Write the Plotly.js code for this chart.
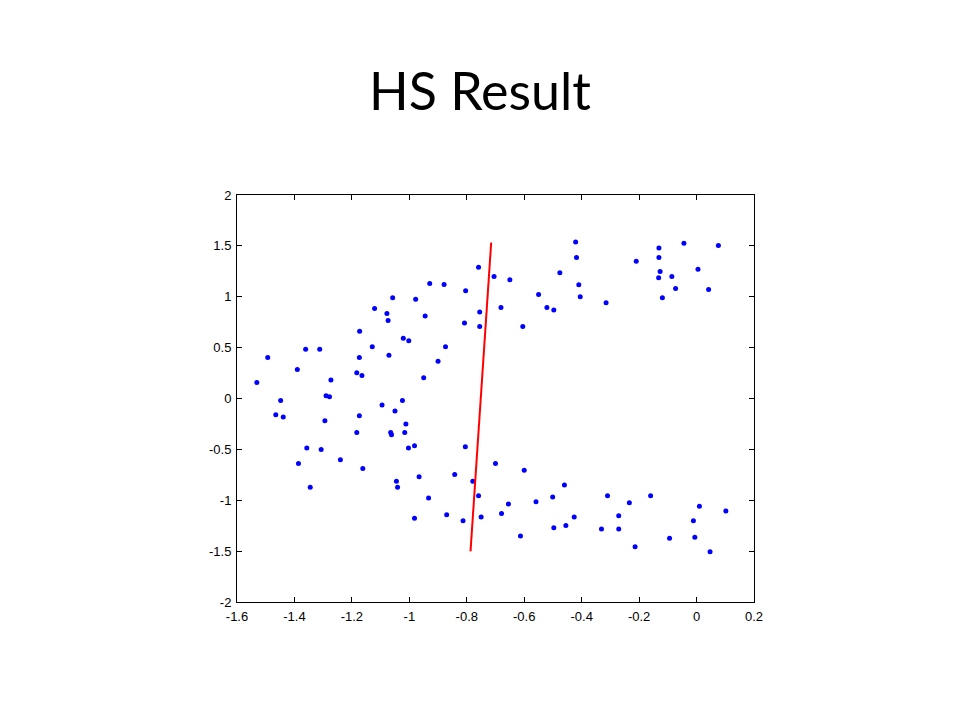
<!DOCTYPE html>
<html>
<head>
<meta charset="utf-8">
<script src="https://cdn.plot.ly/plotly-3.0.1.min.js"></script>
<style>html,body{margin:0;padding:0;background:#fff;}#chart{width:960px;height:720px;}</style>
</head>
<body>
<div id="chart"></div>
<script>
var pointsX = [
 -1.531,-1.493,-1.448,-1.390,-1.361,-1.312,-1.290,-1.278,-1.273,-1.173,
 -1.183,-1.165,-1.174,-1.129,-1.121,-1.078,-1.074,-1.058,-1.071,-1.095,
 -1.050,-1.024,-1.021,-1.002,-0.978,-0.945,-0.929,-0.879,-0.950,-0.900,
 -0.874,-0.804,-0.808,-0.759,-0.755,-0.755,-0.705,-0.681,-0.650,-0.605,
 -0.550,-0.521,-0.497,-0.476,-0.421,-0.418,-0.410,-0.405,-0.315,-0.210,
 -0.131,-0.131,-0.127,-0.132,-0.119,-0.086,-0.073,-0.044,0.005,0.042,0.076,
 -1.465,-1.439,-1.386,-1.357,-1.345,-1.307,-1.294,-1.240,-1.174,-1.183,
 -1.162,-1.065,-1.062,-1.012,-1.016,-1.003,-0.982,-1.045,-1.041,-0.966,
 -0.933,-0.982,-0.870,-0.842,-0.805,-0.813,-0.779,-0.759,-0.750,-0.700,
 -0.679,-0.655,-0.600,-0.613,-0.559,-0.501,-0.497,-0.460,-0.455,-0.426,
 -0.331,-0.310,-0.271,-0.271,-0.234,-0.214,-0.160,-0.094,-0.011,0.010,
 -0.006,0.047,0.102
];
var pointsY = [
 0.158,0.404,-0.019,0.286,0.485,0.485,0.027,0.017,0.181,0.662,
 0.252,0.227,0.404,0.508,0.885,0.836,0.767,0.989,0.426,-0.065,
 -0.124,-0.019,0.593,0.567,0.976,0.812,1.131,1.121,0.203,0.367,
 0.508,1.058,0.741,1.291,0.849,0.708,1.199,0.895,1.166,0.708,
 1.023,0.895,0.871,1.235,1.539,1.386,1.117,0.999,0.940,1.350,
 1.480,1.386,1.249,1.186,0.989,1.199,1.081,1.527,1.271,1.072,1.504,
 -0.160,-0.183,-0.638,-0.487,-0.873,-0.500,-0.219,-0.602,-0.170,-0.333,
 -0.687,-0.333,-0.357,-0.251,-0.333,-0.487,-0.465,-0.814,-0.873,-0.769,
 -0.978,-1.178,-1.142,-0.746,-0.474,-1.201,-0.814,-0.956,-1.165,-0.638,
 -1.129,-1.037,-0.706,-1.352,-1.015,-0.969,-1.270,-0.851,-1.247,-1.165,
 -1.283,-0.956,-1.152,-1.283,-1.025,-1.457,-0.956,-1.374,-1.201,-1.060,
 -1.364,-1.506,-1.106
];
var lineX = [-0.787, -0.715];
var lineY = [-1.503, 1.533];
var xTickVals = [-1.6,-1.4,-1.2,-1,-0.8,-0.6,-0.4,-0.2,0,0.2];
var xTickText = ["-1.6","-1.4","-1.2","-1","-0.8","-0.6","-0.4","-0.2","0","0.2"];
var yTickVals = [-2,-1.5,-1,-0.5,0,0.5,1,1.5,2];
var yTickText = ["-2","-1.5","-1","-0.5","0","0.5","1","1.5","2"];
var titleText = "HS Result";

var traces = [
  {x: pointsX, y: pointsY, mode: 'markers', type: 'scatter',
   marker: {color: '#0000ff', size: 5}, hoverinfo: 'skip'},
  {x: lineX, y: lineY, mode: 'lines', type: 'scatter',
   line: {color: '#ff0000', width: 2}, hoverinfo: 'skip'}
];
var axisCommon = {
  showgrid: false, zeroline: false, showline: true, mirror: 'ticks',
  linecolor: '#000', linewidth: 1, ticks: 'inside', ticklen: 5, tickcolor: '#000',
  tickfont: {family: 'Liberation Sans, Arial, sans-serif', size: 13, color: '#000'},
  tickmode: 'array'
};
var layout = {
  width: 960, height: 720,
  paper_bgcolor: '#fff', plot_bgcolor: '#fff',
  showlegend: false,
  margin: {l: 237, r: 206, t: 195, b: 118, pad: 0},
  title: {text: titleText, x: 0.5, xanchor: 'center', xref: 'container',
          y: 1 - 92/720, yanchor: 'middle', yref: 'container',
          font: {family: 'Lato, Carlito, sans-serif', size: 52, color: '#000'}},
  xaxis: Object.assign({}, axisCommon, {range: [-1.6, 0.2], tickvals: xTickVals, ticktext: xTickText, ticklabelstandoff: 2}),
  yaxis: Object.assign({}, axisCommon, {range: [-2, 2], tickvals: yTickVals, ticktext: yTickText, ticklabelstandoff: 2})
};
Plotly.newPlot('chart', traces, layout, {staticPlot: true, displayModeBar: false});
</script>
</body>
</html>
